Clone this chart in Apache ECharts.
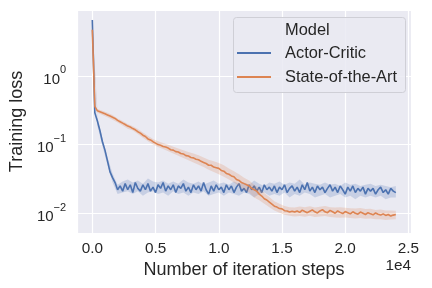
<!DOCTYPE html>
<html>
<head>
<meta charset="utf-8">
<script src="https://cdn.jsdelivr.net/npm/echarts@6/dist/echarts.min.js"></script>
<style>
html,body{margin:0;padding:0;background:#fff;}
#chart{width:432px;height:288px;}
</style>
</head>
<body>
<div id="chart"></div>
<script>
// ---- data ----
var seriesNames = ['Actor-Critic', 'State-of-the-Art'];
var legendTitle = 'Model';
var xTitle = 'Number of iteration steps';
var yTitle = 'Training loss';
var xTicks = [0, 5000, 10000, 15000, 20000, 25000];
var yTicks = [0.01, 0.1, 1];
var meanStep = 200;   // spacing of mean samples
var bandStep = 400;   // spacing of confidence band samples

var actorCriticMean = [
  6.5, 0.29, 0.22, 0.16, 0.11, 0.083, 0.058, 0.040, 0.033, 0.028, 0.022,
  0.025,0.021,0.027,0.022,0.026,0.020,0.028,0.023,0.021,0.026,0.022,0.027,0.021,0.024,0.020,0.026,0.023,0.028,0.021,0.025,
  0.022,0.026,0.020,0.025,0.023,0.027,0.021,0.024,0.020,0.026,0.022,0.025,0.021,0.028,0.022,0.019,0.025,0.021,0.026,0.022,
  0.024,0.020,0.026,0.022,0.025,0.020,0.024,0.027,0.021,0.023,0.020,0.026,0.022,0.025,0.021,0.024,0.020,0.026,0.022,0.024,
  0.021,0.025,0.020,0.024,0.022,0.026,0.020,0.023,0.025,0.021,0.024,0.020,0.026,0.022,0.028,0.021,0.024,0.020,0.025,0.022,
  0.024,0.020,0.023,0.026,0.021,0.024,0.020,0.025,0.022,0.019,0.024,0.021,0.025,0.020,0.023,0.021,0.024,0.019,0.023,0.021,
  0.023,0.019,0.022,0.024,0.020,0.022,0.019,0.023,0.021,0.020
];
var actorCriticLow = [
  6.0, 0.19, 0.095, 0.050, 0.028, 0.019,
  0.020,0.021,0.019,0.021,0.018,0.020,0.021,0.019,0.020,0.018,
  0.021,0.019,0.020,0.018,0.020,0.019,0.021,0.018,0.019,0.020,
  0.018,0.020,0.019,0.018,0.020,0.019,0.017,0.019,0.020,0.018,
  0.019,0.018,0.020,0.017,0.019,0.018,0.020,0.019,0.017,0.018,
  0.019,0.017,0.018,0.019,0.017,0.018,0.016,0.018,0.017,0.018,
  0.017,0.018,0.016,0.017,0.017
];
var actorCriticHigh = [
  7.0, 0.25, 0.125, 0.066, 0.038, 0.026,
  0.029,0.031,0.028,0.030,0.027,0.032,0.029,0.028,0.030,0.027,
  0.029,0.027,0.031,0.028,0.027,0.029,0.026,0.028,0.030,0.027,
  0.028,0.026,0.029,0.027,0.028,0.026,0.030,0.027,0.025,0.028,
  0.027,0.029,0.026,0.028,0.027,0.031,0.026,0.028,0.027,0.026,
  0.028,0.026,0.027,0.025,0.028,0.026,0.027,0.025,0.026,0.027,
  0.025,0.026,0.025,0.024,0.025
];
var sotaMean = [
  4.7, 0.36, 0.31, 0.30, 0.29, 0.28, 0.27, 0.26, 0.25, 0.24, 0.225,
  0.215, 0.205, 0.196, 0.186, 0.180, 0.171, 0.164, 0.154, 0.147, 0.137,
  0.131, 0.121, 0.117, 0.110, 0.105, 0.100, 0.098, 0.094, 0.092, 0.089,
  0.084, 0.083, 0.079, 0.078, 0.074, 0.073, 0.069, 0.068, 0.065, 0.064,
  0.061, 0.060, 0.057, 0.055, 0.053, 0.050, 0.050, 0.047, 0.046, 0.045,
  0.042, 0.041, 0.038, 0.037, 0.035, 0.034, 0.031, 0.030, 0.028, 0.027,
  0.026, 0.025, 0.023, 0.022, 0.021, 0.019, 0.0178, 0.0163, 0.0156, 0.0145,
  0.0136, 0.0127, 0.0123, 0.0117, 0.0116, 0.0109, 0.0108, 0.0104, 0.0107, 0.0104,
  0.0108,0.0103,0.0111,0.0106,0.0102,0.0107,0.0112,0.0105,0.0101,0.0108,
  0.0113,0.0105,0.0102,0.0110,0.0105,0.0100,0.0108,0.0103,0.0099,0.0106,
  0.0102,0.0098,0.0105,0.0100,0.0097,0.0104,0.0100,0.0096,0.0102,0.0098,
  0.0095,0.0101,0.0097,0.0094,0.0098,0.0093,0.0096,0.0091,0.0094,0.0096
];
var sotaLow = [
  4.0, 0.29, 0.27, 0.25, 0.23, 0.21, 0.19, 0.17, 0.16, 0.143,
  0.126, 0.112, 0.100, 0.092, 0.086, 0.080, 0.074, 0.069, 0.064, 0.059,
  0.055, 0.051, 0.047, 0.043, 0.040, 0.037, 0.034, 0.031, 0.028, 0.025,
  0.022, 0.020, 0.017, 0.0155, 0.0138, 0.0122, 0.0110, 0.0102, 0.0095, 0.0092,
  0.0090, 0.0091, 0.0089, 0.0092, 0.0088, 0.0090, 0.0091, 0.0088, 0.0087, 0.0086,
  0.0087, 0.0085, 0.0084, 0.0085, 0.0083, 0.0084, 0.0082, 0.0082, 0.0080, 0.0081,
  0.0082
];
var sotaHigh = [
  5.5, 0.33, 0.31, 0.29, 0.27, 0.24, 0.22, 0.20, 0.185, 0.168,
  0.150, 0.134, 0.121, 0.112, 0.105, 0.099, 0.093, 0.088, 0.083, 0.078,
  0.074, 0.070, 0.065, 0.060, 0.057, 0.054, 0.050, 0.045, 0.041, 0.037,
  0.033, 0.030, 0.026, 0.023, 0.0198, 0.0172, 0.0150, 0.0138, 0.0128, 0.0122,
  0.0121, 0.0125, 0.0122, 0.0127, 0.0121, 0.0124, 0.0128, 0.0122, 0.0121, 0.0122,
  0.0120, 0.0118, 0.0117, 0.0119, 0.0115, 0.0116, 0.0112, 0.0113, 0.0110, 0.0110,
  0.0109
];

// ---- build ----
var colors = ['#4C72B0', '#DD8452'];
var bandColors = ['rgba(76,114,176,0.22)', 'rgba(221,132,82,0.22)'];
var textColor = '#262626';
var FONT = '"Liberation Sans", Arial, sans-serif';

function pairs(values, step) {
  return values.map(function (v, i) { return [i * step, v]; });
}
function bandData(low, high, step) {
  return low.map(function (v, i) { return [i * step, v, high[i]]; });
}

var means = [actorCriticMean, sotaMean];
var lows = [actorCriticLow, sotaLow];
var highs = [actorCriticHigh, sotaHigh];

function makeBandRenderer(k) {
  return function (params, api) {
    if (params.dataIndex !== 0) return null;
    var n = lows[k].length;
    var top = [], bottom = [];
    for (var i = 0; i < n; i++) {
      top.push(api.coord([i * bandStep, highs[k][i]]));
      bottom.push(api.coord([i * bandStep, lows[k][i]]));
    }
    var pts = top.concat(bottom.reverse());
    return { type: 'polygon', shape: { points: pts }, style: { fill: bandColors[k] }, silent: true };
  };
}

var series = [];
for (var k = 0; k < 2; k++) {
  series.push({
    name: 'band' + k, type: 'custom', data: bandData(lows[k], highs[k], bandStep),
    encode: { x: 0, y: [1, 2] }, renderItem: makeBandRenderer(k), silent: true, z: 1 + k * 2
  });
  series.push({
    name: seriesNames[k], type: 'line', data: pairs(means[k], meanStep),
    showSymbol: false, color: colors[k],
    lineStyle: { width: 1.6, color: colors[k] }, z: 2 + k * 2
  });
}

function supLabel(v) {
  var e = Math.log10(v);
  var r = Math.round(e);
  if (Math.abs(e - r) > 0.01) return '';
  var s = r < 0 ? '\u2212' + (-r) : '' + r;
  return '{b|10}{s|' + s + '}';
}

var chart = echarts.init(document.getElementById('chart'), null, { renderer: 'canvas' });
chart.setOption({
  backgroundColor: '#ffffff',
  animation: false,
  textStyle: { fontFamily: FONT },
  grid: { left: 74, right: 21, top: 10, bottom: 55, show: true, backgroundColor: '#EAEAF2', borderWidth: 0 },
  xAxis: {
    type: 'value', min: -1200, max: 25200,
    name: xTitle, nameLocation: 'middle', nameGap: 25,
    nameTextStyle: { fontSize: 18, color: textColor, fontFamily: FONT },
    axisLine: { show: false }, axisTick: { show: false },
    splitLine: { show: true, lineStyle: { color: '#ffffff', width: 1.2 } },
    axisLabel: {
      fontSize: 15.3, color: textColor, margin: 8, fontFamily: FONT,
      showMinLabel: false, showMaxLabel: false,
      formatter: function (v) { return xTicks.indexOf(v) >= 0 ? (v / 10000).toFixed(1) : ''; }
    }
  },
  yAxis: {
    type: 'log', logBase: 10, min: 0.00516, max: 9.1,
    name: yTitle, nameLocation: 'middle', nameGap: 46,
    nameTextStyle: { fontSize: 18, color: textColor, fontFamily: FONT },
    axisLine: { show: false }, axisTick: { show: false },
    minorTick: { show: false }, minorSplitLine: { show: false },
    splitLine: { show: true, lineStyle: { color: '#ffffff', width: 1.2 } },
    axisLabel: {
      color: textColor, margin: 11, fontFamily: FONT,
      showMinLabel: false, showMaxLabel: false,
      formatter: function (v) { return yTicks.some(function (t) { return Math.abs(Math.log10(t) - Math.log10(v)) < 0.01; }) ? supLabel(v) : ''; },
      rich: {
        b: { fontSize: 15, color: textColor, fontFamily: FONT, padding: [7, 0, 0, 0] },
        s: { fontSize: 11, color: textColor, fontFamily: FONT, verticalAlign: 'top', padding: [0, 0, 0, 0] }
      }
    }
  },
  legend: {
    data: seriesNames, orient: 'vertical', left: 237, top: 44, padding: 0, z: 20,
    itemWidth: 34, itemHeight: 2, itemGap: 6, icon: 'rect',
    textStyle: { fontSize: 16.4, color: textColor, fontFamily: FONT, lineHeight: 18, padding: [0, 0, 0, 9] }
  },
  graphic: [
    { type: 'rect', left: 233, top: 17, z: 10,
      shape: { width: 172, height: 75, r: 3 },
      style: { fill: 'rgba(234,234,242,0.85)', stroke: '#cfcfd6', lineWidth: 1 } },
    { type: 'text', left: 285, top: 22, z: 21,
      style: { text: legendTitle, fontSize: 16.4, fill: textColor, fontFamily: FONT } },
    { type: 'text', right: 21, top: 258, z: 21,
      style: { text: '1e4', fontSize: 15.3, fill: textColor, fontFamily: FONT } }
  ],
  series: series
});
</script>
</body>
</html>
